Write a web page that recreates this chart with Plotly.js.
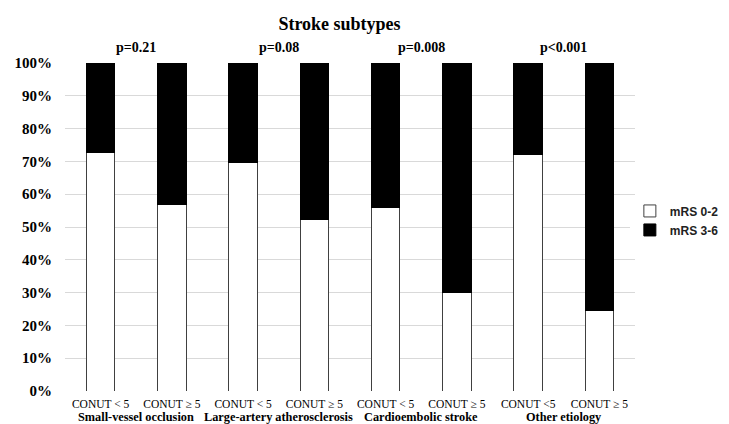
<!DOCTYPE html>
<html>
<head>
<meta charset="utf-8">
<script src="https://cdn.plot.ly/plotly-3.0.1.min.js"></script>
<style>html,body{margin:0;padding:0;background:#fff;}#chart{width:729px;height:424px;}</style>
</head>
<body>
<div id="chart"></div>
<script>
var positions = [0, 1, 2, 3, 4, 5, 6, 7];
var tickLabels = ["CONUT < 5", "CONUT \u2265 5", "CONUT < 5", "CONUT \u2265 5", "CONUT < 5", "CONUT \u2265 5", "CONUT <5", "CONUT \u2265 5"];
var groups = ["Small-vessel occlusion", "Large-artery atherosclerosis", "Cardioembolic stroke", "Other etiology"];
var groupCenters = [0.5, 2.5, 4.5, 6.5];
var pValues = ["p=0.21", "p=0.08", "p=0.008", "p<0.001"];
var mrs02 = [0.726, 0.569, 0.696, 0.523, 0.559, 0.301, 0.721, 0.244];
var mrs36 = [0.274, 0.431, 0.304, 0.477, 0.441, 0.699, 0.279, 0.756];

var serif = "Liberation Serif, Times New Roman, serif";

var traces = [
  {type: "bar", name: "mRS 0-2", x: positions, y: mrs02,
   marker: {color: "#ffffff", line: {color: "#404040", width: 1}}},
  {type: "bar", name: "mRS 3-6", x: positions, y: mrs36,
   marker: {color: "#000000", line: {color: "#000000", width: 1}}}
];

var annotations = [];
for (var i = 0; i < groups.length; i++) {
  annotations.push({x: groupCenters[i], y: -0.0787, xref: "x", yref: "paper", text: "<b>" + groups[i] + "</b>",
    showarrow: false, xanchor: "center", yanchor: "middle", font: {family: serif, size: 12.3, color: "#000"}});
  annotations.push({x: groupCenters[i], y: 1.048, xref: "x", yref: "paper", text: "<b>" + pValues[i] + "</b>",
    showarrow: false, xanchor: "center", yanchor: "middle", font: {family: serif, size: 14, color: "#000"}});
}

var layout = {
  width: 729, height: 424,
  margin: {l: 65, r: 94, t: 63, b: 33, autoexpand: false},
  paper_bgcolor: "#fff", plot_bgcolor: "#fff",
  barmode: "stack", bargap: 0.6,
  title: {text: "<b>Stroke subtypes</b>", x: 0.4657, xref: "container", xanchor: "center",
          y: 0.945, yref: "container", yanchor: "middle", font: {family: serif, size: 18, color: "#000"}},
  xaxis: {range: [-0.5, 7.5], tickmode: "array", tickvals: positions, ticktext: tickLabels,
          showgrid: false, zeroline: false, showline: false, ticks: "", ticklabelstandoff: 4, automargin: false,
          tickfont: {family: serif, size: 11.5, color: "#000"}},
  yaxis: {range: [0, 1], dtick: 0.1, tickformat: ".0%", showgrid: true, gridcolor: "#d9d9d9", gridwidth: 1,
          zeroline: false, showline: false, ticks: "", ticklabelstandoff: 12, automargin: false,
          tickfont: {family: serif, size: 15, color: "#000", weight: "bold"}},
  showlegend: true,
  legend: {x: 0.991, y: 0.52, xanchor: "left", yanchor: "middle", traceorder: "normal",
           font: {family: "Liberation Sans, Arial, sans-serif", size: 12, color: "#222", weight: "bold"},
           itemwidth: 30, tracegroupgap: 0},
  annotations: annotations
};

Plotly.newPlot("chart", traces, layout, {displayModeBar: false, staticPlot: true});
</script>
</body>
</html>
